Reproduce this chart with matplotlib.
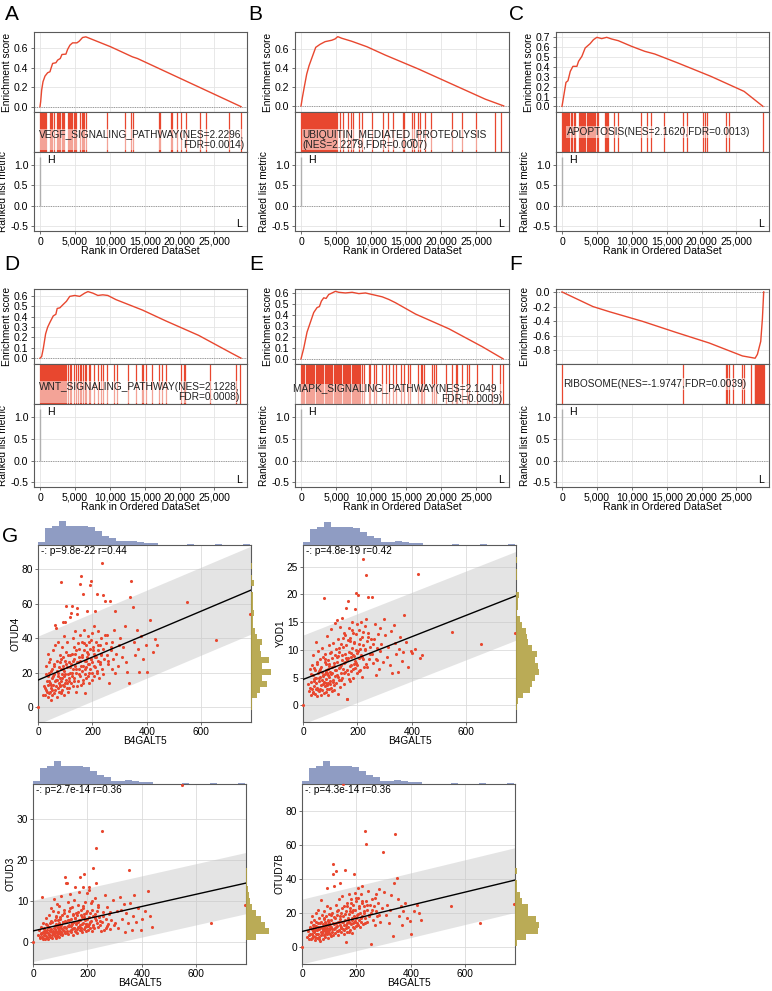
import matplotlib
matplotlib.use('Agg')
import matplotlib.pyplot as plt
from matplotlib.ticker import FormatStrFormatter

plt.rcParams['font.family'] = ['Liberation Sans', 'DejaVu Sans']
plt.rcParams['font.size'] = 7.3
plt.rcParams['axes.unicode_minus'] = True

W, H = 772, 991
RED = '#E8472F'
FRAME = '#5a5a5a'
GRID = '#e4e4e4'

# ---------------- GSEA data ----------------
rank_ticks = [0, 5000, 10000, 15000, 20000, 25000]
rank_labels = ['0', '5,000', '10,000', '15,000', '20,000', '25,000']
metric_ticks = [-0.5, 0.0, 0.5, 1.0]
metric_top = 1.2  # ranked list metric bar at rank 0

# running enrichment score, read at its corners
es_rank_A = [0, 95, 238, 429, 714, 1095, 1429, 1571, 1810, 2286, 2524, 2905, 3143, 3714, 3952,
             4286, 4667, 5286, 5619, 6095, 6571, 10143, 13238, 13952, 28810]
es_val_A = [0, 0.051, 0.171, 0.257, 0.315, 0.35, 0.36, 0.394, 0.446, 0.453, 0.48, 0.497, 0.538, 0.542,
            0.59, 0.634, 0.658, 0.658, 0.675, 0.713, 0.72, 0.617, 0.514, 0.497, 0.0]
es_rank_B = [0, 190, 476, 810, 1143, 1524, 2095, 2714, 3429, 4381, 4857, 5238, 5810, 7238, 9381,
             12000, 16762, 21524, 26286, 28905]
es_val_B = [0, 0.088, 0.205, 0.336, 0.424, 0.502, 0.618, 0.65, 0.678, 0.693, 0.707, 0.731, 0.714,
            0.682, 0.625, 0.537, 0.389, 0.23, 0.071, 0.0]
es_rank_C = [0, 237, 569, 854, 1186, 1565, 2135, 2372, 2846, 3321, 4032, 4507, 5000, 5693, 6404,
             7116, 8065, 9962, 11860, 13283, 16603, 21347, 26091, 28795]
es_val_C = [0, 0.101, 0.243, 0.26, 0.355, 0.406, 0.406, 0.457, 0.507, 0.592, 0.636, 0.676, 0.70,
            0.687, 0.70, 0.683, 0.666, 0.609, 0.558, 0.531, 0.44, 0.304, 0.152, 0.0]
es_rank_D = [0, 237, 474, 805, 1090, 1421, 1895, 2274, 2463, 2842, 3316, 3790, 4263, 4974, 5684,
             6395, 6869, 7579, 8290, 9000, 9711, 10895, 13264, 14685, 18001, 22738, 27475, 28801]
es_val_D = [0, 0.016, 0.094, 0.234, 0.297, 0.344, 0.406, 0.422, 0.478, 0.484, 0.516, 0.547, 0.594,
            0.603, 0.594, 0.625, 0.64, 0.625, 0.603, 0.609, 0.603, 0.5625, 0.5, 0.4625, 0.359,
            0.219, 0.047, 0.0]
es_rank_E = [0, 381, 857, 1333, 1810, 2286, 2619, 2905, 3238, 3571, 3952, 4429, 4905, 5381, 6333,
             7286, 8238, 9190, 10143, 11571, 12524, 13476, 16333, 21095, 25857, 28810]
es_val_E = [0, 0.095, 0.243, 0.332, 0.421, 0.466, 0.475, 0.525, 0.555, 0.549, 0.585, 0.599, 0.614,
            0.605, 0.599, 0.605, 0.593, 0.599, 0.585, 0.564, 0.54, 0.51, 0.407, 0.273, 0.11, 0.0]
es_rank_F = [0, 4429, 6810, 11571, 16333, 21095, 25857, 27667, 28000, 28476, 28714, 28900]
es_val_F = [0, -0.2, -0.271, -0.403, -0.553, -0.698, -0.875, -0.906, -0.853, -0.676, -0.368, 0.0]

# positions of the gene set members in the ranked list
hits_A = [0, 120, 240, 360, 480, 600, 720, 840, 1480, 1620, 1780, 1950, 2430, 2600, 2780, 2900,
          3150, 3300, 3470, 4050, 4200, 4350, 4500, 4650, 4800, 4950, 5100, 5780, 5950, 6150,
          6350, 6550, 9571, 12143, 13000, 13333, 17048, 17190, 18714, 18952, 19667, 20143,
          20857, 22905, 23714, 27048, 28810]
hits_B = [0, 80, 170, 250, 330, 420, 500, 600, 690, 780, 860, 950, 1050, 1130, 1220, 1310, 1400,
          1500, 1580, 1670, 1760, 1850, 1950, 2050, 2150, 2250, 2350, 2450, 2550, 2650, 2750,
          2850, 2950, 3050, 3150, 3250, 3350, 3450, 3550, 3650, 3750, 3850, 3950, 4050, 4150,
          4250, 4350, 4450, 4550, 4650, 4750, 4850, 4950, 5050, 5150, 5571, 6048, 6762, 7095,
          7476, 8286, 8667, 10190, 11667, 12333, 13095, 14476, 14667, 15810, 16048, 16619,
          16905, 17714, 18524, 21524, 22952, 24952, 27619, 28571]
hits_C = [0, 142, 285, 427, 569, 712, 854, 1044, 1233, 1423, 1660, 1898, 2372, 2514, 2657, 2799,
          2941, 3083, 3226, 3558, 3700, 3843, 3985, 4127, 4269, 4412, 4554, 4696, 4981, 5218,
          6167, 6309, 6452, 6594, 7448, 8065, 11290, 12192, 12808, 14564, 17315, 17884, 20256,
          20493, 20731, 23482, 23956, 28795]
hits_D = [0, 130, 260, 390, 520, 650, 780, 910, 1040, 1170, 1300, 1430, 1560, 1690, 1820, 1950,
          2080, 2210, 2340, 2470, 2600, 2730, 2860, 2990, 3120, 3250, 3380, 3510, 3640, 3790,
          4026, 4263, 4500, 4832, 5116, 5448, 5684, 5921, 6158, 6395, 6632, 7011, 7200, 7722,
          8290, 8764, 9095, 9569, 10659, 10990, 12553, 13738, 14590, 14780, 15159, 16012,
          17054, 17527, 18096, 20133, 20606, 20843, 24396, 28044, 28660]
hits_E = [0, 160, 320, 480, 640, 800, 960, 1120, 1280, 1440, 1600, 1760, 1920, 2080, 2240, 2400,
          2560, 2720, 2880, 3040, 3200, 3360, 3520, 3680, 3840, 4000, 4160, 4320, 4480, 4640,
          4800, 4960, 5120, 5280, 5440, 5600, 5760, 5920, 6080, 6240, 6400, 6560, 6720, 6880,
          7040, 7200, 7360, 7520, 7680, 7840, 8000, 8160, 8320, 8476, 8714, 8952, 9667, 9905,
          10381, 10762, 11571, 12048, 12524, 13143, 13476, 14190, 14667, 15286, 15524, 16714,
          17048, 17286, 17524, 18714, 18952, 19190, 20619, 21571, 22048, 22286, 23000, 23714,
          23952, 25143, 27286, 28333, 28810]
hits_F = [0, 17286, 23476, 23666, 23857, 24524, 25857, 26095, 27048, 27619, 27700, 27800, 27900,
          28000, 28100, 28200, 28300, 28400, 28500, 28600, 28700, 28800, 28900]

labels_gsea = ['VEGF_SIGNALING_PATHWAY(NES=2.2296,\nFDR=0.0014)',
               'UBIQUITIN_MEDIATED_PROTEOLYSIS\n(NES=2.2279,FDR=0.0007)',
               'APOPTOSIS(NES=2.1620,FDR=0.0013)',
               'WNT_SIGNALING_PATHWAY(NES=2.1228,\nFDR=0.0008)',
               'MAPK_SIGNALING_PATHWAY(NES=2.1049 ,\nFDR=0.0009)',
               'RIBOSOME(NES=-1.9747,FDR=0.0039)']

# ---------------- scatter data ----------------
b4galt5 = [0, 18, 22, 25, 28, 30, 32, 34, 35, 37, 38, 39,
           41, 42, 44, 45, 47, 48, 50, 51, 53, 54, 55, 57, 58, 60, 61, 62, 64, 65, 66, 68, 69, 70,
           71, 72, 74, 75, 76, 77, 78, 79,
           80, 81, 82, 83, 84, 85, 86, 87, 88, 89, 90, 91, 92, 93, 94, 95, 96, 97, 98, 99, 100,
           102, 103, 104, 105, 107, 108, 110, 111, 113, 114, 116, 117, 119,
           120, 121, 122, 123, 125, 126, 127, 128, 130, 131, 132, 134, 135, 136, 138, 139, 140,
           142, 143, 145, 146, 148, 149, 150, 152, 153, 154, 155, 157, 159,
           160, 161, 163, 164, 165, 167, 168, 170, 171, 173, 174, 176, 177, 179, 180, 182, 183,
           185, 186, 188, 190, 191, 192, 194, 195, 196, 198, 199,
           200, 202, 204, 205, 207, 209, 210, 212, 214, 215, 217, 219, 220, 222, 224, 226, 228,
           230, 232, 234, 236, 238, 240, 243, 246, 249,
           252, 255, 258, 261, 264, 267, 270, 273, 276, 280, 284, 288, 292, 297,
           302, 307, 312, 318, 323, 328, 333, 338, 342, 347,
           352, 357, 362, 367, 372, 378, 385, 395,
           402, 413, 424, 430,
           438, 548, 652, 780,
           # denser core
           26, 31, 36, 40, 43, 46, 49, 52, 56, 59, 63, 67, 73, 80, 83, 86, 89, 92, 95, 98,
           101, 106, 109, 112, 115, 118, 124, 129, 133, 137, 141, 144, 147, 151, 156, 158, 162,
           166, 169, 172, 175, 178, 181, 184, 187, 189, 193, 197, 201, 206, 211, 216, 221, 227,
           233, 239, 245, 256, 268, 282]

otud4 = [0, 7, 12, 7, 24, 10, 15, 9, 31, 18, 13, 26,
         20, 8, 14, 28, 11, 4, 17, 22, 10, 33, 13, 25, 19, 8, 15, 36, 47.7, 46, 12, 21,
         6, 27, 16, 11, 38, 18, 9, 23, 14, 30,
         17, 12, 26, 8, 22, 72.6, 15, 35, 19, 10, 24, 49.6, 13, 29, 18, 7, 21, 41, 14, 27,
         49.6, 16, 32, 58.6, 11, 23, 38, 19, 9, 26, 15, 52.5, 30, 20,
         25, 14, 54.4, 31, 58.6, 18, 40, 22, 12, 28, 35, 17, 44, 24, 20, 9, 33, 26, 54, 57.6,
         15, 37, 22, 29, 19, 71.6, 42, 27, 13, 75.9,
         30, 21, 38, 65.5, 24, 16, 33, 45, 27, 19, 8, 36, 23, 29, 56, 41, 18, 31, 25, 14,
         71, 34, 22, 39, 73, 28, 20, 43,
         26, 35, 18, 31, 47, 23, 56, 29, 38, 65.5, 21, 33, 44, 27, 17, 36, 25, 40, 30, 22,
         83.5, 65, 34, 28, 61.7, 37,
         30, 42, 25, 13.8, 61.7, 35, 22, 38, 28, 45, 56, 31, 24, 36,
         40, 29, 35, 47, 26, 20.3, 13.8, 64, 73, 57.9,
         38, 30, 45, 34, 20.5, 41, 28, 36,
         20.5, 50.6, 31.8, 39.7,
         36, 60.7, 38.7, 54,
         11, 19, 6, 15, 9, 21, 13, 7, 18, 24, 10, 16, 20, 13, 28, 9, 17, 22, 12, 19,
         25, 14, 30, 17, 11, 23, 20, 27, 15, 31, 22, 12, 26, 34, 18, 24, 29,
         14, 37, 22, 27, 17, 32, 25, 20, 38, 28, 16, 33, 24, 29, 20, 36, 26,
         31, 19, 42, 27, 33, 20]

yod1 = [0, 3.8, 2.5, 6.5, 1.8, 4.2, 7.2, 3, 5.4, 2.2, 9, 4.8,
        3.5, 6.8, 2, 5, 11.5, 4, 1.6, 7.5, 3.2, 5.8, 9.8, 2.6, 4.4, 6.2, 8.4, 3, 5.2, 1.8, 7, 4.6,
        10.4, 2.8, 6, 3.8, 8.8, 5.5, 2.2, 19.3, 4.2, 7.8,
        5.6, 3.4, 9.2, 6.4, 2.4, 4.8, 7.4, 12.5, 3.6, 5.9, 8.2, 1.9, 6.6, 4.1, 10.8, 5.1, 2.9,
        7.1, 9.5, 4.4, 6.1, 3.1, 13.8, 5.7, 8.6, 2.6, 6.9, 4.5, 11.2, 7.6, 3.7, 9.1, 5.3, 14.8,
        6.3, 4, 10.1, 7.8, 15.3, 5.5, 2.1, 8.9, 12, 6.7, 4.6, 9.6, 14.2, 3.3, 7.3, 11, 5.9, 8.1,
        15.8, 4.9, 10.6, 6.5, 13, 7.7, 3.9, 9.3, 12.6, 6, 8.5, 17.5,
        1.1, 8.2, 1.1, 11.8, 18.8, 5.6, 9.7, 14, 7.1, 4.3, 12.2, 8.8, 6.2, 10.3, 15, 5, 9.1,
        13.1, 7.5, 11.4, 8, 17.4, 6.8, 10, 20.2, 12.8, 5.8, 9.4,
        7.2, 19.9, 11, 8.6, 13.6, 6.4, 10.2, 15.1, 9, 5.2, 12.4, 8.3, 26.3, 10.8, 7, 14.3, 9.9,
        15.6, 23.5, 11.6, 6.9, 13, 19.6, 8.4, 10.6, 12,
        9.2, 19.6, 7.6, 11.9, 14.6, 5.5, 10.4, 8.2, 12.8, 6.6, 9.8, 11, 7.8, 15.6,
        12.6, 8.8, 10.5, 7.2, 13.4, 5.9, 14.4, 11.3, 9.2, 6.1,
        10.2, 12.4, 8, 9.6, 16.2, 11.5, 7, 9.8,
        9.4, 10.1, 23.6, 8.6,
        9, 13.2, 11, 13,
        3.2, 5.6, 2.4, 4.4, 6.4, 3, 5, 7.8, 2.7, 4.9, 6.6, 3.6, 5.3, 8.3, 4, 6.1, 2.9, 5.4,
        7.4, 3.8, 9.6, 5.8, 4.2, 7.1, 2.8, 6.4, 8.8, 5.1, 10.4, 6.9, 4.6, 9, 12.1, 5.9, 7.9,
        10.9, 6.3, 8.6, 4.8, 11.6, 7.3, 9.4, 13.6, 6.5, 8.9, 11.3, 7.7, 14.6, 9.8, 6.2, 11.9,
        8.7, 13.2, 10.2, 7.4, 12.3, 9.3, 11.1, 8.4, 13.9]

otud3 = [0, 1.5, 2.8, 0.8, 1.9, 3.5, 1.2, 10.8, 2.4, 4.6, 0.9, 2,
         1.6, 3.2, 0.6, 2.5, 5.8, 1.3, 2.9, 1, 4.1, 2.1, 0.7, 3.6, 6.6, 1.8, 2.6, 4.6, 1.1, 3,
         8.2, 2.3, 1.5, 4.8, 0.9, 2.7, 7.4, 1.9, 3.4, 10.5, 2.1, 5.3,
         1.4, 3.1, 2.2, 6.1, 0.8, 4.2, 2.6, 9.3, 1.7, 3.8, 5.4, 2, 7.2, 3.3, 1.2, 4.5, 2.8, 8.7,
         3.6, 1.9, 5.9, 2.4, 4, 11.2, 3, 6.5, 1.6, 4.7, 2.9, 7.8, 3.5, 5.1, 2.2, 15.9,
         14.3, 3.2, 4.8, 14.3, 2.5, 6.2, 3.7, 9.8, 1.8, 5.2, 4.1, 7.5, 2.7, 11.6, 3.9, 5.6, 2.3,
         8.4, 4.4, 3, 6.7, 1.5, 4.9, 10.1, 3.4, 13.3, 5.8, 2.6, 7, 4.2,
         3.1, 6.4, 2, 4.7, 9, 3.6, 5.3, 12.1, 2.8, 4, 15.7, 7.7, 3.3, 5.9, 2.4, 8.1, 13.3, 4.6,
         6.8, 16.5, 3.5, 5.2, 9.6, 2.7, 4.3, 7.1, 11.8, 3.8,
         5.5, 2.9, 13.3, 4.2, 12.7, 6.9, 3.4, 9.4, 5, 2.5, 7.8, 4.1, 6.3, 18, 3.2, 10.7, 5.8,
         14.3, 22.8, 7.4, 4.5, 8.9, 3.6, 6, 5.1, 2.6,
         27, 4.8, 7.2, 2.9, 11.3, 5.6, 3.8, 8.5, 4.4, 6.7, 3.1, 5.3, 10.3, 4,
         4.6, 7.6, 3.3, 11, 7.8, 5.5, 9.2, 2.3, 7, 4.6,
         17.5, 9.4, 2.9, 6.2, 11.3, 4.8, 8.2, 2.9,
         5.5, 7.4, 12.5, 6.3,
         3.5, 38.4, 4.6, 9,
         1.1, 2.2, 0.6, 3.1, 1.7, 4.3, 2.4, 0.9, 3.5, 1.5, 2.9, 5.1, 1.8, 3.7, 2.3, 6.3, 1.3,
         4.1, 2.7, 5.6, 3.2, 1.9, 4.8, 2.5, 6.9, 3.6, 2.1, 5.3, 3.9, 8.1, 2.8, 4.6, 6.4, 3.3,
         5.7, 2.4, 4.9, 7.3, 3.6, 5.4, 2.9, 6.6, 4.2, 8.8, 3.1, 5.9, 4.4, 7.6, 3.7, 6.1, 4.9,
         9.9, 3.5, 6.8, 5.2, 8.4, 4.1, 6.2, 3.4, 7.3]

otud7b = [0, 6, 9.5, 4.5, 12, 7.5, 15, 5, 10.5, 18, 8, 11,
          13, 6.5, 9, 16, 4, 11, 7.5, 20, 12.5, 5.5, 9.8, 14, 22, 8, 10.5, 6, 17, 12, 3.5, 9,
          15, 27.7, 7, 11.5, 19, 8.5, 13.5, 5, 10, 16.5,
          12, 7, 21, 9.5, 14.5, 6, 10.8, 18, 8.2, 12.8, 24, 34.5, 11, 7.5, 15.5, 9, 13, 5.5,
          19.5, 10, 14, 8, 23, 11.5, 6.5, 16, 12, 9, 20, 49, 43, 36, 13.5, 10.5,
          17, 11, 8.5, 25, 44.6, 14, 9.5, 19, 12.5, 7, 22, 15, 10, 28, 13, 37.4, 16.5, 9, 20, 12,
          30, 14.5, 95.6, 18, 10.5, 24, 13, 8, 45.5, 16,
          11.5, 3, 21, 14, 9, 26, 17, 12, 31, 15, 19.5, 10, 23, 13.5, 28, 16, 8.5, 20.5, 25, 14,
          43, 18, 11, 32, 15.5, 22, 12.5, 27,
          17, 14, 29, 19.5, 35, 16, 23, 12, 20, 31, 15, 26, 18, 36, 13.5, 24, 21, 68, 17, 60.4,
          27, 14.5, 22, 33, 19, 25,
          2, 20, 28, 16, 24, 13, 31, 21, 18, 26, 34, 15, 23, 56,
          32.2, 19, 25, 14, 22, 30.4, 6.8, 37.6, 66.7, 40.4,
          28.2, 18, 24, 13, 21, 26, 17, 15.6,
          7.8, 21, 25, 20,
          16, 24, 14, 25.5,
          7, 11, 5.5, 9.5, 13, 6, 10, 15, 8, 12, 4.5, 14, 9, 17, 11, 7.5, 13.5, 10, 16, 8.5,
          12.5, 19, 10.5, 14, 7, 17.5, 12, 21, 9.5, 15, 18, 11, 23, 14.5, 10, 19.5, 13, 24, 16,
          9, 21, 14, 26, 17, 12, 22, 15, 29, 19, 13, 24, 17, 27, 20, 14, 25, 18, 22, 29, 19]

gene_names = ['OTUD4', 'YOD1', 'OTUD3', 'OTUD7B']
stat_text = ['-: p=9.8e-22 r=0.44', '-: p=4.8e-19 r=0.42', '-: p=2.7e-14 r=0.36', '-: p=4.3e-14 r=0.36']
fit_intercept = [15.7, 4.66, 2.6, 9.2]
fit_slope = [0.0667, 0.0193, 0.0150, 0.0386]
band_half = [25.5, 8.0, 7.5, 19.0]
x_max = 782


def box(l, t, r, b):
    return [l / W, 1 - b / H, (r - l) / W, (b - t) / H]


def frame(ax):
    for s in ax.spines.values():
        s.set_color(FRAME)
        s.set_linewidth(0.8)


fig = plt.figure(figsize=(W / 100, H / 100), dpi=100)

cols = [(34, 247), (295, 509), (556, 769)]
rows = [(32, 112, 152, 231), (289, 364, 404, 487)]
es_sets = [(es_rank_A, es_val_A), (es_rank_B, es_val_B), (es_rank_C, es_val_C),
           (es_rank_D, es_val_D), (es_rank_E, es_val_E), (es_rank_F, es_val_F)]
hit_sets = [hits_A, hits_B, hits_C, hits_D, hits_E, hits_F]
es_ticks = [[0, 0.2, 0.4, 0.6], [0, 0.2, 0.4, 0.6], [0, 0.1, 0.2, 0.3, 0.4, 0.5, 0.6, 0.7],
            [0, 0.1, 0.2, 0.3, 0.4, 0.5, 0.6], [0, 0.1, 0.2, 0.3, 0.4, 0.5, 0.6],
            [0, -0.2, -0.4, -0.6, -0.8]]
es_lims = [(-0.055, 0.77), (-0.064, 0.78), (-0.057, 0.754), (-0.056, 0.665), (-0.047, 0.635),
           (-0.985, 0.04)]
text_pos = [(0.985, 0.31, 'right'), (0.035, 0.31, 'left'), (0.05, 0.5, 'left'),
            (0.965, 0.3, 'right'), (0.97, 0.24, 'right'), (0.033, 0.5, 'left')]
letters = ['A', 'B', 'C', 'D', 'E', 'F']
letter_xy = [(12, 14), (255, 14), (516, 14), (12, 265), (256, 265), (516, 265)]

for i in range(6):
    l, r = cols[i % 3]
    t0, t1, t2, b = rows[i // 3]
    ax1 = fig.add_axes(box(l, t0, r, t1))
    ax2 = fig.add_axes(box(l, t1, r, t2))
    ax3 = fig.add_axes(box(l, t2, r, b))
    for ax in (ax1, ax2, ax3):
        ax.set_xlim(-860, 29660)
        frame(ax)
        ax.tick_params(length=2.5, width=0.6, color=FRAME, pad=1.5, labelsize=7.6)

    rk, ev = es_sets[i]
    ax1.plot(rk, ev, color=RED, lw=1.0, zorder=3)
    ax1.axhline(0, color='#9a9a9a', lw=0.7, ls=(0, (1.2, 1.2)), zorder=2)
    ax1.set_ylim(es_lims[i])
    ax1.set_yticks(es_ticks[i])
    ax1.yaxis.set_major_formatter(FormatStrFormatter('%.1f'))
    ax1.set_xticks(rank_ticks)
    ax1.tick_params(axis='x', length=0, labelbottom=False)
    ax1.grid(color=GRID, lw=0.6)
    ax1.set_axisbelow(True)
    ax1.set_ylabel('Enrichment score', labelpad=1.5)

    ax2.vlines(hit_sets[i], 0, 1, color=RED, lw=0.9)
    ax2.set_ylim(0, 1)
    ax2.set_xticks([])
    ax2.set_yticks([])
    tx, ty, ha = text_pos[i]
    ax2.text(tx, ty, labels_gsea[i], transform=ax2.transAxes, ha=ha, va='center',
             multialignment=ha, fontsize=7.3, color='#222222', linespacing=1.0,
             bbox=dict(facecolor='white', alpha=0.5, edgecolor='none', pad=0.4))

    ax3.vlines([0], 0, metric_top, color='#b0b0b0', lw=1.0, zorder=3)
    ax3.axhline(0, color='#9a9a9a', lw=0.7, ls=(0, (1.2, 1.2)), zorder=2)
    ax3.set_ylim(-0.61, 1.31)
    ax3.set_yticks(metric_ticks)
    ax3.yaxis.set_major_formatter(FormatStrFormatter('%.1f'))
    ax3.set_xticks(rank_ticks)
    ax3.set_xticklabels(rank_labels)
    ax3.grid(color=GRID, lw=0.6)
    ax3.set_axisbelow(True)
    ax3.set_ylabel('Ranked list metric', labelpad=1.5)
    ax3.set_xlabel('Rank in Ordered DataSet', labelpad=-0.5, fontsize=7.6)
    ax3.text(950, 1.12, 'H', fontsize=7.6, va='center')
    ax3.text(28140, -0.45, 'L', fontsize=7.6, va='center')

    fig.text(letter_xy[i][0] / W, 1 - letter_xy[i][1] / H, letters[i], fontsize=15,
             ha='center', va='center')

# ---------------- scatter panels ----------------
sc_main = [(38, 545, 251, 722), (303, 545, 516, 722), (33, 784, 246, 964), (302, 784, 515, 964)]
sc_top = [(38, 520, 251, 545), (303, 521, 516, 545), (33, 760, 246, 784), (302, 760, 515, 784)]
sc_right = [(251, 545, 272, 722), (516, 545, 540, 722), (246, 784, 270, 964), (515, 784, 540, 964)]
sc_ylim = [(-8.6, 94), (-3, 28.9), (-5.5, 38.6), (-9.9, 95.8)]
sc_yticks = [[0, 20, 40, 60, 80], [0, 5, 10, 15, 20, 25], [0, 10, 20, 30], [0, 20, 40, 60, 80]]
sc_values = [otud4, yod1, otud3, otud7b]

for i in range(4):
    y = sc_values[i]
    ax = fig.add_axes(box(*sc_main[i]))
    frame(ax)
    ax.set_xlim(0, x_max)
    ax.set_ylim(sc_ylim[i])
    ends = [0, x_max]
    fit = [fit_intercept[i] + fit_slope[i] * e for e in ends]
    ax.fill_between(ends, [f - band_half[i] for f in fit], [f + band_half[i] for f in fit],
                    color='#c4c4c4', alpha=0.45, lw=0, zorder=1)
    ax.scatter(b4galt5, y, s=5, color=RED, lw=0, zorder=3, clip_on=False)
    ax.plot(ends, fit, color='black', lw=1.0, zorder=4)
    ax.set_xticks([0, 200, 400, 600])
    ax.set_yticks(sc_yticks[i])
    ax.grid(color='#dcdcdc', lw=0.6)
    ax.set_axisbelow(True)
    ax.tick_params(length=2.5, width=0.6, color=FRAME, pad=1, labelsize=7.3)
    ax.set_xlabel('B4GALT5', labelpad=-0.5)
    ax.set_ylabel(gene_names[i], labelpad=1)
    ax.text(0.012, 0.995, stat_text[i], transform=ax.transAxes, ha='left', va='top', fontsize=7.2)

    axt = fig.add_axes(box(*sc_top[i]))
    axt.hist(b4galt5, bins=30, range=(0, 780), color='#8391bd', alpha=0.9)
    axt.set_xlim(0, x_max)
    axt.axis('off')

    axr = fig.add_axes(box(*sc_right[i]))
    axr.hist(y, bins=30, range=sc_ylim[i], orientation='horizontal', color='#b3a244', alpha=0.9)
    axr.set_ylim(sc_ylim[i])
    axr.axis('off')

fig.text(10 / W, 1 - 537 / H, 'G', fontsize=15, ha='center', va='center')

fig.savefig('out.png', dpi=100)
